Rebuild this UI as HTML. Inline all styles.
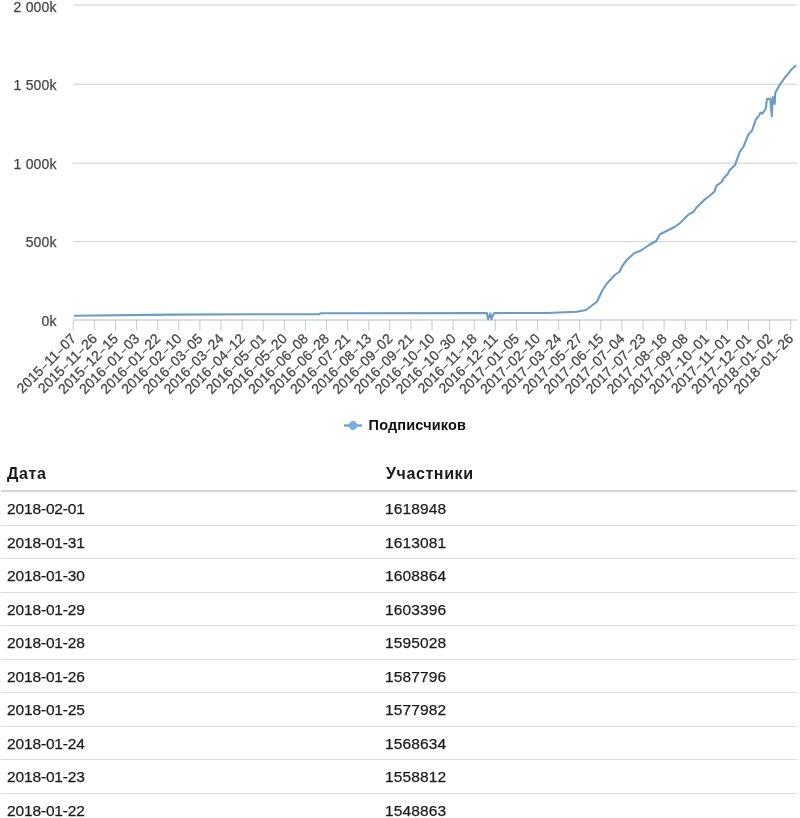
<!DOCTYPE html>
<html><head><meta charset="utf-8"><style>
html,body{margin:0;padding:0;background:#fff;width:800px;height:818px;overflow:hidden;position:relative}
body{font-family:"Liberation Sans",sans-serif}
.yl{font-family:"Liberation Sans",sans-serif;font-size:14px;fill:#444;stroke:#444;stroke-width:0.25px;letter-spacing:0.2px}
.xl{font-family:"Liberation Sans",sans-serif;font-size:14px;fill:#444;stroke:#444;stroke-width:0.25px}
.lg{font-family:"Liberation Sans",sans-serif;font-size:14.5px;font-weight:bold;fill:#111;letter-spacing:0.15px}
.t{will-change:transform;position:absolute;font-size:15.5px;line-height:16px;color:#1a1a1a;-webkit-text-stroke:0.25px #1a1a1a;white-space:nowrap;letter-spacing:0.15px}
.th{font-size:16px;font-weight:bold;letter-spacing:0.6px;-webkit-text-stroke:0}
.ln{position:absolute;left:1px;width:796px}
</style></head><body>
<svg width="800" height="445" style="position:absolute;left:0;top:0;will-change:transform"><rect x="73" y="4.35" width="724" height="1.3" fill="#dadada"/><rect x="73" y="83.65" width="724" height="1.3" fill="#dadada"/><rect x="73" y="162.45" width="724" height="1.3" fill="#dadada"/><rect x="73" y="240.95" width="724" height="1.3" fill="#dadada"/><text x="56.8" y="11.90" text-anchor="end" class="yl">2 000k</text><text x="56.8" y="90.00" text-anchor="end" class="yl">1 500k</text><text x="56.8" y="168.80" text-anchor="end" class="yl">1 000k</text><text x="56.8" y="247.30" text-anchor="end" class="yl">500k</text><text x="56.8" y="325.70" text-anchor="end" class="yl">0k</text><rect x="73" y="319.3" width="724" height="1.4" fill="#c9d0dc"/><rect x="72.80" y="320" width="1" height="10.5" fill="#c2c9d6"/><rect x="93.90" y="320" width="1" height="10.5" fill="#c2c9d6"/><rect x="115.00" y="320" width="1" height="10.5" fill="#c2c9d6"/><rect x="136.10" y="320" width="1" height="10.5" fill="#c2c9d6"/><rect x="157.20" y="320" width="1" height="10.5" fill="#c2c9d6"/><rect x="178.30" y="320" width="1" height="10.5" fill="#c2c9d6"/><rect x="199.40" y="320" width="1" height="10.5" fill="#c2c9d6"/><rect x="220.50" y="320" width="1" height="10.5" fill="#c2c9d6"/><rect x="241.60" y="320" width="1" height="10.5" fill="#c2c9d6"/><rect x="262.70" y="320" width="1" height="10.5" fill="#c2c9d6"/><rect x="283.80" y="320" width="1" height="10.5" fill="#c2c9d6"/><rect x="304.90" y="320" width="1" height="10.5" fill="#c2c9d6"/><rect x="326.00" y="320" width="1" height="10.5" fill="#c2c9d6"/><rect x="347.10" y="320" width="1" height="10.5" fill="#c2c9d6"/><rect x="368.20" y="320" width="1" height="10.5" fill="#c2c9d6"/><rect x="389.30" y="320" width="1" height="10.5" fill="#c2c9d6"/><rect x="410.40" y="320" width="1" height="10.5" fill="#c2c9d6"/><rect x="431.50" y="320" width="1" height="10.5" fill="#c2c9d6"/><rect x="452.60" y="320" width="1" height="10.5" fill="#c2c9d6"/><rect x="473.70" y="320" width="1" height="10.5" fill="#c2c9d6"/><rect x="494.80" y="320" width="1" height="10.5" fill="#c2c9d6"/><rect x="515.90" y="320" width="1" height="10.5" fill="#c2c9d6"/><rect x="537.00" y="320" width="1" height="10.5" fill="#c2c9d6"/><rect x="558.10" y="320" width="1" height="10.5" fill="#c2c9d6"/><rect x="579.20" y="320" width="1" height="10.5" fill="#c2c9d6"/><rect x="600.30" y="320" width="1" height="10.5" fill="#c2c9d6"/><rect x="621.40" y="320" width="1" height="10.5" fill="#c2c9d6"/><rect x="642.50" y="320" width="1" height="10.5" fill="#c2c9d6"/><rect x="663.60" y="320" width="1" height="10.5" fill="#c2c9d6"/><rect x="684.70" y="320" width="1" height="10.5" fill="#c2c9d6"/><rect x="705.80" y="320" width="1" height="10.5" fill="#c2c9d6"/><rect x="726.90" y="320" width="1" height="10.5" fill="#c2c9d6"/><rect x="748.00" y="320" width="1" height="10.5" fill="#c2c9d6"/><rect x="769.10" y="320" width="1" height="10.5" fill="#c2c9d6"/><rect x="790.20" y="320" width="1" height="10.5" fill="#c2c9d6"/><text x="76.90" y="339.60" text-anchor="end" transform="rotate(-45 76.90 339.60)" class="xl">2015<tspan dx="1.25" dy="-1.2" font-size="9.5">&#8211;</tspan><tspan dx="1.25" dy="1.2">11</tspan><tspan dx="1.25" dy="-1.2" font-size="9.5">&#8211;</tspan><tspan dx="1.25" dy="1.2">07</tspan></text><text x="98.00" y="339.60" text-anchor="end" transform="rotate(-45 98.00 339.60)" class="xl">2015<tspan dx="1.25" dy="-1.2" font-size="9.5">&#8211;</tspan><tspan dx="1.25" dy="1.2">11</tspan><tspan dx="1.25" dy="-1.2" font-size="9.5">&#8211;</tspan><tspan dx="1.25" dy="1.2">26</tspan></text><text x="119.10" y="339.60" text-anchor="end" transform="rotate(-45 119.10 339.60)" class="xl">2015<tspan dx="1.25" dy="-1.2" font-size="9.5">&#8211;</tspan><tspan dx="1.25" dy="1.2">12</tspan><tspan dx="1.25" dy="-1.2" font-size="9.5">&#8211;</tspan><tspan dx="1.25" dy="1.2">15</tspan></text><text x="140.20" y="339.60" text-anchor="end" transform="rotate(-45 140.20 339.60)" class="xl">2016<tspan dx="1.25" dy="-1.2" font-size="9.5">&#8211;</tspan><tspan dx="1.25" dy="1.2">01</tspan><tspan dx="1.25" dy="-1.2" font-size="9.5">&#8211;</tspan><tspan dx="1.25" dy="1.2">03</tspan></text><text x="161.30" y="339.60" text-anchor="end" transform="rotate(-45 161.30 339.60)" class="xl">2016<tspan dx="1.25" dy="-1.2" font-size="9.5">&#8211;</tspan><tspan dx="1.25" dy="1.2">01</tspan><tspan dx="1.25" dy="-1.2" font-size="9.5">&#8211;</tspan><tspan dx="1.25" dy="1.2">22</tspan></text><text x="182.40" y="339.60" text-anchor="end" transform="rotate(-45 182.40 339.60)" class="xl">2016<tspan dx="1.25" dy="-1.2" font-size="9.5">&#8211;</tspan><tspan dx="1.25" dy="1.2">02</tspan><tspan dx="1.25" dy="-1.2" font-size="9.5">&#8211;</tspan><tspan dx="1.25" dy="1.2">10</tspan></text><text x="203.50" y="339.60" text-anchor="end" transform="rotate(-45 203.50 339.60)" class="xl">2016<tspan dx="1.25" dy="-1.2" font-size="9.5">&#8211;</tspan><tspan dx="1.25" dy="1.2">03</tspan><tspan dx="1.25" dy="-1.2" font-size="9.5">&#8211;</tspan><tspan dx="1.25" dy="1.2">05</tspan></text><text x="224.60" y="339.60" text-anchor="end" transform="rotate(-45 224.60 339.60)" class="xl">2016<tspan dx="1.25" dy="-1.2" font-size="9.5">&#8211;</tspan><tspan dx="1.25" dy="1.2">03</tspan><tspan dx="1.25" dy="-1.2" font-size="9.5">&#8211;</tspan><tspan dx="1.25" dy="1.2">24</tspan></text><text x="245.70" y="339.60" text-anchor="end" transform="rotate(-45 245.70 339.60)" class="xl">2016<tspan dx="1.25" dy="-1.2" font-size="9.5">&#8211;</tspan><tspan dx="1.25" dy="1.2">04</tspan><tspan dx="1.25" dy="-1.2" font-size="9.5">&#8211;</tspan><tspan dx="1.25" dy="1.2">12</tspan></text><text x="266.80" y="339.60" text-anchor="end" transform="rotate(-45 266.80 339.60)" class="xl">2016<tspan dx="1.25" dy="-1.2" font-size="9.5">&#8211;</tspan><tspan dx="1.25" dy="1.2">05</tspan><tspan dx="1.25" dy="-1.2" font-size="9.5">&#8211;</tspan><tspan dx="1.25" dy="1.2">01</tspan></text><text x="287.90" y="339.60" text-anchor="end" transform="rotate(-45 287.90 339.60)" class="xl">2016<tspan dx="1.25" dy="-1.2" font-size="9.5">&#8211;</tspan><tspan dx="1.25" dy="1.2">05</tspan><tspan dx="1.25" dy="-1.2" font-size="9.5">&#8211;</tspan><tspan dx="1.25" dy="1.2">20</tspan></text><text x="309.00" y="339.60" text-anchor="end" transform="rotate(-45 309.00 339.60)" class="xl">2016<tspan dx="1.25" dy="-1.2" font-size="9.5">&#8211;</tspan><tspan dx="1.25" dy="1.2">06</tspan><tspan dx="1.25" dy="-1.2" font-size="9.5">&#8211;</tspan><tspan dx="1.25" dy="1.2">08</tspan></text><text x="330.10" y="339.60" text-anchor="end" transform="rotate(-45 330.10 339.60)" class="xl">2016<tspan dx="1.25" dy="-1.2" font-size="9.5">&#8211;</tspan><tspan dx="1.25" dy="1.2">06</tspan><tspan dx="1.25" dy="-1.2" font-size="9.5">&#8211;</tspan><tspan dx="1.25" dy="1.2">28</tspan></text><text x="351.20" y="339.60" text-anchor="end" transform="rotate(-45 351.20 339.60)" class="xl">2016<tspan dx="1.25" dy="-1.2" font-size="9.5">&#8211;</tspan><tspan dx="1.25" dy="1.2">07</tspan><tspan dx="1.25" dy="-1.2" font-size="9.5">&#8211;</tspan><tspan dx="1.25" dy="1.2">21</tspan></text><text x="372.30" y="339.60" text-anchor="end" transform="rotate(-45 372.30 339.60)" class="xl">2016<tspan dx="1.25" dy="-1.2" font-size="9.5">&#8211;</tspan><tspan dx="1.25" dy="1.2">08</tspan><tspan dx="1.25" dy="-1.2" font-size="9.5">&#8211;</tspan><tspan dx="1.25" dy="1.2">13</tspan></text><text x="393.40" y="339.60" text-anchor="end" transform="rotate(-45 393.40 339.60)" class="xl">2016<tspan dx="1.25" dy="-1.2" font-size="9.5">&#8211;</tspan><tspan dx="1.25" dy="1.2">09</tspan><tspan dx="1.25" dy="-1.2" font-size="9.5">&#8211;</tspan><tspan dx="1.25" dy="1.2">02</tspan></text><text x="414.50" y="339.60" text-anchor="end" transform="rotate(-45 414.50 339.60)" class="xl">2016<tspan dx="1.25" dy="-1.2" font-size="9.5">&#8211;</tspan><tspan dx="1.25" dy="1.2">09</tspan><tspan dx="1.25" dy="-1.2" font-size="9.5">&#8211;</tspan><tspan dx="1.25" dy="1.2">21</tspan></text><text x="435.60" y="339.60" text-anchor="end" transform="rotate(-45 435.60 339.60)" class="xl">2016<tspan dx="1.25" dy="-1.2" font-size="9.5">&#8211;</tspan><tspan dx="1.25" dy="1.2">10</tspan><tspan dx="1.25" dy="-1.2" font-size="9.5">&#8211;</tspan><tspan dx="1.25" dy="1.2">10</tspan></text><text x="456.70" y="339.60" text-anchor="end" transform="rotate(-45 456.70 339.60)" class="xl">2016<tspan dx="1.25" dy="-1.2" font-size="9.5">&#8211;</tspan><tspan dx="1.25" dy="1.2">10</tspan><tspan dx="1.25" dy="-1.2" font-size="9.5">&#8211;</tspan><tspan dx="1.25" dy="1.2">30</tspan></text><text x="477.80" y="339.60" text-anchor="end" transform="rotate(-45 477.80 339.60)" class="xl">2016<tspan dx="1.25" dy="-1.2" font-size="9.5">&#8211;</tspan><tspan dx="1.25" dy="1.2">11</tspan><tspan dx="1.25" dy="-1.2" font-size="9.5">&#8211;</tspan><tspan dx="1.25" dy="1.2">18</tspan></text><text x="498.90" y="339.60" text-anchor="end" transform="rotate(-45 498.90 339.60)" class="xl">2016<tspan dx="1.25" dy="-1.2" font-size="9.5">&#8211;</tspan><tspan dx="1.25" dy="1.2">12</tspan><tspan dx="1.25" dy="-1.2" font-size="9.5">&#8211;</tspan><tspan dx="1.25" dy="1.2">11</tspan></text><text x="520.00" y="339.60" text-anchor="end" transform="rotate(-45 520.00 339.60)" class="xl">2017<tspan dx="1.25" dy="-1.2" font-size="9.5">&#8211;</tspan><tspan dx="1.25" dy="1.2">01</tspan><tspan dx="1.25" dy="-1.2" font-size="9.5">&#8211;</tspan><tspan dx="1.25" dy="1.2">05</tspan></text><text x="541.10" y="339.60" text-anchor="end" transform="rotate(-45 541.10 339.60)" class="xl">2017<tspan dx="1.25" dy="-1.2" font-size="9.5">&#8211;</tspan><tspan dx="1.25" dy="1.2">02</tspan><tspan dx="1.25" dy="-1.2" font-size="9.5">&#8211;</tspan><tspan dx="1.25" dy="1.2">10</tspan></text><text x="562.20" y="339.60" text-anchor="end" transform="rotate(-45 562.20 339.60)" class="xl">2017<tspan dx="1.25" dy="-1.2" font-size="9.5">&#8211;</tspan><tspan dx="1.25" dy="1.2">03</tspan><tspan dx="1.25" dy="-1.2" font-size="9.5">&#8211;</tspan><tspan dx="1.25" dy="1.2">24</tspan></text><text x="583.30" y="339.60" text-anchor="end" transform="rotate(-45 583.30 339.60)" class="xl">2017<tspan dx="1.25" dy="-1.2" font-size="9.5">&#8211;</tspan><tspan dx="1.25" dy="1.2">05</tspan><tspan dx="1.25" dy="-1.2" font-size="9.5">&#8211;</tspan><tspan dx="1.25" dy="1.2">27</tspan></text><text x="604.40" y="339.60" text-anchor="end" transform="rotate(-45 604.40 339.60)" class="xl">2017<tspan dx="1.25" dy="-1.2" font-size="9.5">&#8211;</tspan><tspan dx="1.25" dy="1.2">06</tspan><tspan dx="1.25" dy="-1.2" font-size="9.5">&#8211;</tspan><tspan dx="1.25" dy="1.2">15</tspan></text><text x="625.50" y="339.60" text-anchor="end" transform="rotate(-45 625.50 339.60)" class="xl">2017<tspan dx="1.25" dy="-1.2" font-size="9.5">&#8211;</tspan><tspan dx="1.25" dy="1.2">07</tspan><tspan dx="1.25" dy="-1.2" font-size="9.5">&#8211;</tspan><tspan dx="1.25" dy="1.2">04</tspan></text><text x="646.60" y="339.60" text-anchor="end" transform="rotate(-45 646.60 339.60)" class="xl">2017<tspan dx="1.25" dy="-1.2" font-size="9.5">&#8211;</tspan><tspan dx="1.25" dy="1.2">07</tspan><tspan dx="1.25" dy="-1.2" font-size="9.5">&#8211;</tspan><tspan dx="1.25" dy="1.2">23</tspan></text><text x="667.70" y="339.60" text-anchor="end" transform="rotate(-45 667.70 339.60)" class="xl">2017<tspan dx="1.25" dy="-1.2" font-size="9.5">&#8211;</tspan><tspan dx="1.25" dy="1.2">08</tspan><tspan dx="1.25" dy="-1.2" font-size="9.5">&#8211;</tspan><tspan dx="1.25" dy="1.2">18</tspan></text><text x="688.80" y="339.60" text-anchor="end" transform="rotate(-45 688.80 339.60)" class="xl">2017<tspan dx="1.25" dy="-1.2" font-size="9.5">&#8211;</tspan><tspan dx="1.25" dy="1.2">09</tspan><tspan dx="1.25" dy="-1.2" font-size="9.5">&#8211;</tspan><tspan dx="1.25" dy="1.2">08</tspan></text><text x="709.90" y="339.60" text-anchor="end" transform="rotate(-45 709.90 339.60)" class="xl">2017<tspan dx="1.25" dy="-1.2" font-size="9.5">&#8211;</tspan><tspan dx="1.25" dy="1.2">10</tspan><tspan dx="1.25" dy="-1.2" font-size="9.5">&#8211;</tspan><tspan dx="1.25" dy="1.2">01</tspan></text><text x="731.00" y="339.60" text-anchor="end" transform="rotate(-45 731.00 339.60)" class="xl">2017<tspan dx="1.25" dy="-1.2" font-size="9.5">&#8211;</tspan><tspan dx="1.25" dy="1.2">11</tspan><tspan dx="1.25" dy="-1.2" font-size="9.5">&#8211;</tspan><tspan dx="1.25" dy="1.2">01</tspan></text><text x="752.10" y="339.60" text-anchor="end" transform="rotate(-45 752.10 339.60)" class="xl">2017<tspan dx="1.25" dy="-1.2" font-size="9.5">&#8211;</tspan><tspan dx="1.25" dy="1.2">12</tspan><tspan dx="1.25" dy="-1.2" font-size="9.5">&#8211;</tspan><tspan dx="1.25" dy="1.2">01</tspan></text><text x="773.20" y="339.60" text-anchor="end" transform="rotate(-45 773.20 339.60)" class="xl">2018<tspan dx="1.25" dy="-1.2" font-size="9.5">&#8211;</tspan><tspan dx="1.25" dy="1.2">01</tspan><tspan dx="1.25" dy="-1.2" font-size="9.5">&#8211;</tspan><tspan dx="1.25" dy="1.2">02</tspan></text><text x="794.30" y="339.60" text-anchor="end" transform="rotate(-45 794.30 339.60)" class="xl">2018<tspan dx="1.25" dy="-1.2" font-size="9.5">&#8211;</tspan><tspan dx="1.25" dy="1.2">01</tspan><tspan dx="1.25" dy="-1.2" font-size="9.5">&#8211;</tspan><tspan dx="1.25" dy="1.2">26</tspan></text><path d="M74.00 315.70 L170.00 314.60 L319.40 314.10 L320.40 313.30 L487.00 313.10 L488.00 319.20 L490.50 313.60 L491.50 319.20 L494.00 313.10 L547.00 313.00 L577.00 311.70 L586.00 310.00 L597.00 301.75 L602.25 290.50 L606.75 283.75 L615.00 274.75 L619.50 271.75 L622.50 265.75 L627.00 259.75 L634.50 253.00 L640.50 250.75 L649.50 244.75 L656.25 241.00 L660.00 234.25 L666.00 231.25 L675.00 226.75 L680.00 223.00 L688.60 214.40 L693.50 212.00 L695.90 208.30 L704.50 199.70 L709.40 196.00 L714.25 191.80 L716.70 185.70 L721.60 182.00 L724.00 177.70 L727.70 174.00 L729.50 170.40 L735.00 164.90 L737.50 158.10 L740.00 151.40 L743.60 146.50 L746.70 138.60 L748.30 134.70 L752.20 130.30 L755.60 120.00 L759.00 115.60 L760.50 112.70 L762.50 113.60 L765.90 108.30 L766.90 99.00 L770.30 99.00 L771.80 116.10 L772.70 97.00 L774.70 103.90 L775.20 93.10 L780.00 84.30 L785.00 77.50 L791.80 69.20 L796.20 65.30" fill="none" stroke="#6a9cc8" stroke-width="2.1" stroke-linejoin="round" stroke-linecap="butt"/><path d="M344 425.5 L362 425.5" stroke="#6a9cc8" stroke-width="2.2"/><circle cx="353" cy="425.5" r="4.4" fill="#78ade0"/><text x="368.6" y="430" class="lg">Подписчиков</text></svg>
<div class="t th" style="left:7px;top:465.5px">Дата</div><div class="t th" style="left:385.5px;top:465.5px">Участники</div><div class="ln" style="top:490.4px;height:2px;background:#d6d6d6"></div><div class="t" style="left:6.6px;top:501.10px;letter-spacing:-0.15px">2018-02-01</div><div class="t" style="left:384.5px;top:501.10px">1618948</div><div class="ln" style="top:524.80px;height:1px;background:#dcdcdc"></div><div class="t" style="left:6.6px;top:534.60px;letter-spacing:-0.15px">2018-01-31</div><div class="t" style="left:384.5px;top:534.60px">1613081</div><div class="ln" style="top:558.30px;height:1px;background:#dcdcdc"></div><div class="t" style="left:6.6px;top:568.10px;letter-spacing:-0.15px">2018-01-30</div><div class="t" style="left:384.5px;top:568.10px">1608864</div><div class="ln" style="top:591.80px;height:1px;background:#dcdcdc"></div><div class="t" style="left:6.6px;top:601.60px;letter-spacing:-0.15px">2018-01-29</div><div class="t" style="left:384.5px;top:601.60px">1603396</div><div class="ln" style="top:625.30px;height:1px;background:#dcdcdc"></div><div class="t" style="left:6.6px;top:635.10px;letter-spacing:-0.15px">2018-01-28</div><div class="t" style="left:384.5px;top:635.10px">1595028</div><div class="ln" style="top:658.80px;height:1px;background:#dcdcdc"></div><div class="t" style="left:6.6px;top:668.60px;letter-spacing:-0.15px">2018-01-26</div><div class="t" style="left:384.5px;top:668.60px">1587796</div><div class="ln" style="top:692.30px;height:1px;background:#dcdcdc"></div><div class="t" style="left:6.6px;top:702.10px;letter-spacing:-0.15px">2018-01-25</div><div class="t" style="left:384.5px;top:702.10px">1577982</div><div class="ln" style="top:725.80px;height:1px;background:#dcdcdc"></div><div class="t" style="left:6.6px;top:735.60px;letter-spacing:-0.15px">2018-01-24</div><div class="t" style="left:384.5px;top:735.60px">1568634</div><div class="ln" style="top:759.30px;height:1px;background:#dcdcdc"></div><div class="t" style="left:6.6px;top:769.10px;letter-spacing:-0.15px">2018-01-23</div><div class="t" style="left:384.5px;top:769.10px">1558812</div><div class="ln" style="top:792.80px;height:1px;background:#dcdcdc"></div><div class="t" style="left:6.6px;top:802.60px;letter-spacing:-0.15px">2018-01-22</div><div class="t" style="left:384.5px;top:802.60px">1548863</div><div class="ln" style="top:826.30px;height:1px;background:#dcdcdc"></div>
</body></html>
